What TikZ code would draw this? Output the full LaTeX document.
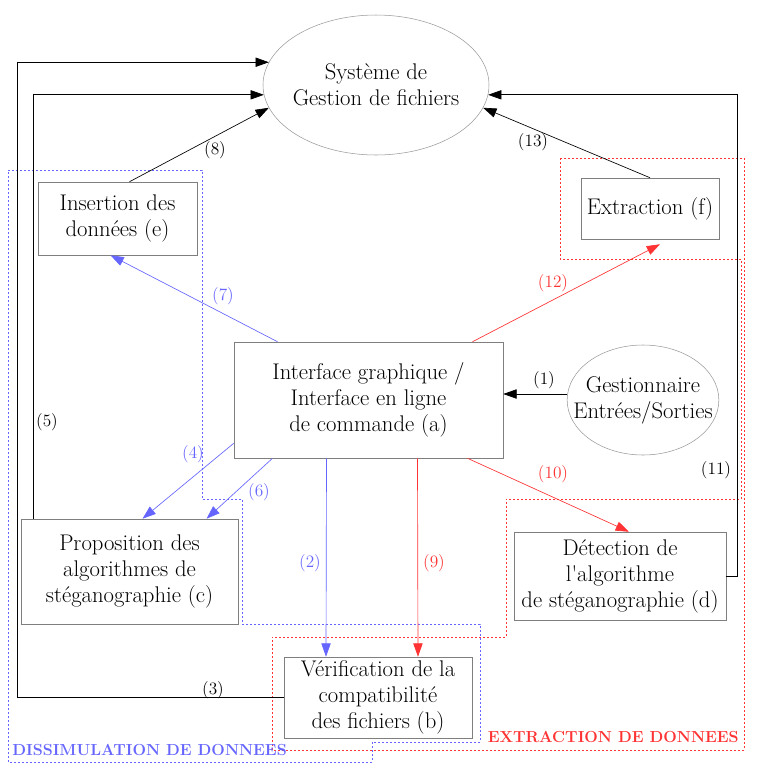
\documentclass[tikz,border=0pt]{standalone}
\usetikzlibrary{shapes.geometric,arrows.meta,calc}
\definecolor{dissim}{HTML}{6666FF}
\definecolor{extr}{HTML}{FF3333}
\definecolor{boxgray}{HTML}{7F7F7F}

\begin{document}
\begin{tikzpicture}[x=0.75pt,y=-0.75pt,
   bloc/.style={draw=boxgray,align=center,inner sep=1pt,font=\fontsize{17}{19.5}\selectfont},
   ovale/.style={ellipse,draw=boxgray!80,align=center,inner sep=0pt,font=\fontsize{17}{19.5}\selectfont},
   fl/.style={-{Triangle[length=10pt,width=7pt]},line width=0.5pt},
   num/.style={font=\fontsize{13}{15}\selectfont,inner sep=1pt},
   zone/.style={dash pattern=on 1.5pt off 1.5pt,line width=0.5pt},
   titre/.style={font=\bfseries\fontsize{12}{14}\selectfont,inner sep=0pt}]
   \useasboundingbox (0,0) rectangle (766,776);
   % zones
   \draw[zone,dissim] (8,170) -- (202,170) -- (202,499) -- (242,499) -- (242,624) -- (480,624)
      -- (480,742) -- (372,742) -- (372,762) -- (8,762) -- cycle;
   \draw[zone,extr] (560,158) -- (744,158) -- (744,750) -- (272,750) -- (272,637) -- (506,637)
      -- (506,499) -- (741,499) -- (741,259) -- (560,259) -- cycle;
   \node[titre,text=dissim,anchor=west] (tdis) at (12,750) {DISSIMULATION DE DONNEES};
   \node[titre,text=extr,anchor=east] (text) at (739,737) {EXTRACTION DE DONNEES};

   \node[ovale,inner xsep=-3pt,minimum width=169.5pt,minimum height=105pt] (sys) at (376,85) {Système de\\Gestion de fichiers};
   \node[ovale,inner xsep=-12pt,minimum width=113pt,minimum height=82.5pt] (es) at (643,400) {Gestionnaire\\Entrées/Sorties};
   \node[bloc,minimum width=201.75pt,minimum height=87pt] (a) at (368.5,400) {Interface graphique /\\Interface en ligne\\de commande (a)};
   \node[bloc,minimum width=141pt,minimum height=60.75pt] (b) at (378,697.5) {Vérification de la\\compatibilité\\des fichiers (b)};
   \node[bloc,minimum width=162.75pt,minimum height=78.75pt] (c) at (129.5,571.5) {Proposition des\\algorithmes de\\stéganographie (c)};
   \node[bloc,minimum width=159pt,minimum height=66pt] (d) at (620,576) {Détection de\\l\textquotesingle algorithme\\de stéganographie (d)};
   \node[bloc,minimum width=119.25pt,minimum height=54.75pt] (e) at (117.5,218.5) {Insertion des\\données (e)};
   \node[bloc,minimum width=103.5pt,minimum height=45.75pt] (f) at (650,208.5) {Extraction (f)};

   \draw[fl] ($(es.west)+(0,-6)$) -- ($(a.east)+(0,-6)$);
   \draw[fl,dissim] ($(a.south)+(-42,0)$) -- ($(b.north)+(-52,0)$);
   \draw[fl] (b.west) -- ++(-266,0) |- (sys.168);
   \draw[fl,dissim] ($(a.south west)+(0,-15)$) -- ($(c.north)+(13,0)$);
   \draw[fl] ($(c.north)+(-96,0)$) |- (sys.185);
   \draw[fl,dissim] ($(a.south)+(-96,0)$) -- ($(c.north)+(77,0)$);
   \draw[fl,dissim] ($(a.north)+(-91,0)$) -- ($(e.south)+(-7,0)$);
   \draw[fl] ($(e.north)+(12,0)$) -- (sys.192);
   \draw[fl,extr] ($(a.south)+(49,0)$) -- ($(b.north)+(40,0)$);
   \draw[fl,extr] ($(a.south)+(99,0)$) -- ($(d.north)+(9,0)$);
   \draw[fl] (d.east) -- ++(11,0) |- (sys.-5);
   \draw[fl,extr] ($(a.north)+(104,0)$) -- ($(f.south)+(10,5)$);
   \draw[fl] (f.north) -- (sys.-12);

   \node[num] (n1) at (544,380) {(1)};
   \node[num,text=dissim] (n2) at (310,563) {(2)};
   \node[num] (n3) at (213,690) {(3)};
   \node[num,text=dissim] (n4) at (193,454) {(4)};
   \node[num] (n5) at (47,422) {(5)};
   \node[num,text=dissim] (n6) at (259,492) {(6)};
   \node[num,text=dissim] (n7) at (223,296) {(7)};
   \node[num] (n8) at (215,150) {(8)};
   \node[num,text=extr] (n9) at (434,563) {(9)};
   \node[num,text=extr] (n10) at (553,474) {(10)};
   \node[num] (n11) at (716,470) {(11)};
   \node[num,text=extr] (n12) at (553,283) {(12)};
   \node[num] (n13) at (533,142) {(13)};
\end{tikzpicture}
\end{document}
